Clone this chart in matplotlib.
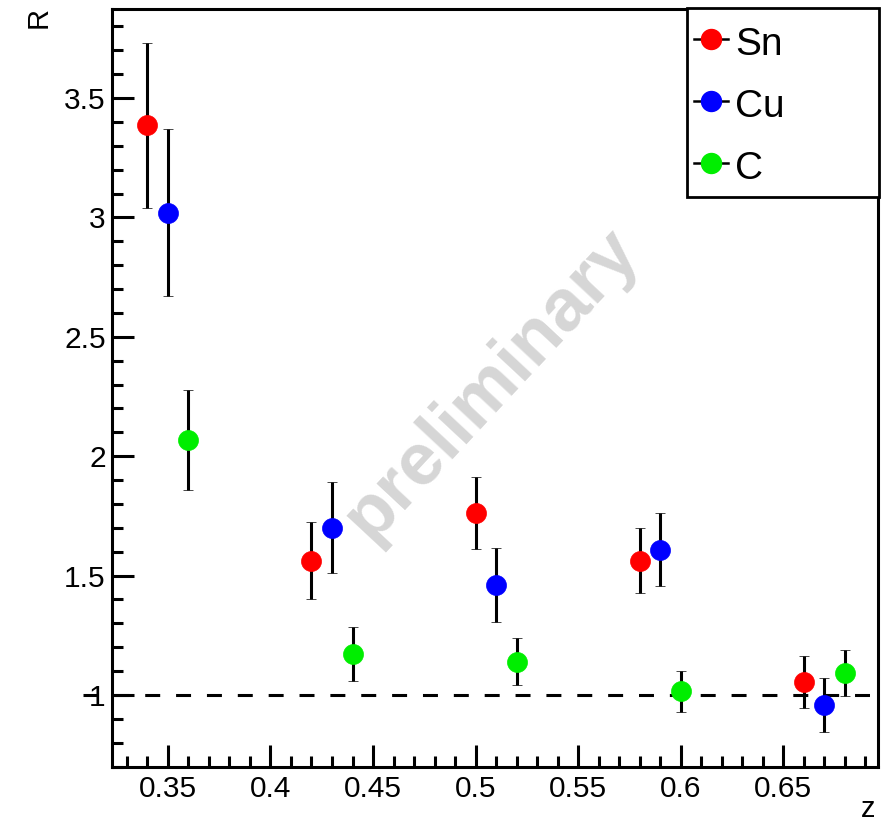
import matplotlib
matplotlib.use("Agg")
import matplotlib.pyplot as plt
from matplotlib.lines import Line2D
from matplotlib.patches import Rectangle
from matplotlib.ticker import MultipleLocator

plt.rcParams['font.family'] = ['Liberation Sans', 'DejaVu Sans']

# ---- data ----
series_names = ["Sn", "Cu", "C"]
series_colors = ["#ff0000", "#0000ff", "#00ee00"]

z_sn = [0.34, 0.42, 0.50, 0.58, 0.66]
r_sn = [3.385, 1.563, 1.762, 1.563, 1.055]
e_sn = [0.345, 0.162, 0.152, 0.135, 0.110]

z_cu = [0.35, 0.43, 0.51, 0.59, 0.67]
r_cu = [3.020, 1.700, 1.462, 1.608, 0.958]
e_cu = [0.350, 0.190, 0.155, 0.153, 0.115]

z_c = [0.36, 0.44, 0.52, 0.60, 0.68]
r_c = [2.067, 1.172, 1.140, 1.015, 1.092]
e_c = [0.210, 0.113, 0.100, 0.085, 0.095]

ref_level = 1.0
xlim = (0.3227, 0.6963)
ylim = (0.6985, 3.8727)
ref_line_x = (0.3085, 0.6963)
watermark = "preliminary"

W, H = 889, 826
fig = plt.figure(figsize=(W / 100, H / 100), dpi=100)
ax = fig.add_axes([112 / W, 1 - 767 / H, (878 - 112) / W, (767 - 9) / H])

ax.set_xlim(*xlim)
ax.set_ylim(*ylim)

# dashed reference line
ax.plot(ref_line_x, [ref_level, ref_level], color="black", lw=2.2,
        linestyle=(0, (4.9, 5.2)), clip_on=False, zorder=1.5)

handles = []
for z, r, e, name, col in zip([z_sn, z_cu, z_c], [r_sn, r_cu, r_c],
                              [e_sn, e_cu, e_c], series_names, series_colors):
    ax.errorbar(z, r, yerr=e, fmt="o", color=col, markersize=14.4,
                markeredgecolor=col, markeredgewidth=0.5,
                ecolor="black", elinewidth=2.2,
                capsize=3.6, capthick=2.2, zorder=3)
    handles.append(Line2D([0], [0], color="black", lw=1.8, marker="o",
                          markerfacecolor=col, markeredgecolor=col,
                          markersize=14.4, label=name))

# watermark
ax.text(0.495, 0.505, watermark, transform=ax.transAxes, rotation=47,
        ha="center", va="center", fontsize=53, fontweight="bold",
        color="#d6d6d6", zorder=1)

# axes styling
for s in ax.spines.values():
    s.set_linewidth(2.2)
ax.xaxis.set_major_locator(MultipleLocator(0.05))
ax.xaxis.set_minor_locator(MultipleLocator(0.01))
ax.yaxis.set_major_locator(MultipleLocator(0.5))
ax.yaxis.set_minor_locator(MultipleLocator(0.1))
ax.tick_params(which="both", direction="in", top=False, right=False, width=2.2)
ax.tick_params(which="major", length=16, labelsize=21.5)
ax.tick_params(which="minor", length=8)
ax.tick_params(axis="x", pad=6)
ax.tick_params(axis="y", pad=4.5)

def fmt(v, pos):
    s = ("%.2f" % v).rstrip("0").rstrip(".")
    return s
ax.xaxis.set_major_formatter(plt.FuncFormatter(fmt))
ax.yaxis.set_major_formatter(plt.FuncFormatter(fmt))

fig.text(39 / W, 1 - 17 / H, "R", rotation=90, ha="center", va="center", fontsize=21)
fig.text(868 / W, 1 - 809 / H, "z", ha="center", va="center", fontsize=21)

# legend box (frame) and legend entries
ax.add_patch(Rectangle((687 / W, 1 - 197 / H), 192 / W, 189 / H,
                       transform=fig.transFigure, facecolor="white",
                       edgecolor="black", lw=2.0, clip_on=False, zorder=4))
leg = ax.legend(handles=handles, loc="upper left",
                bbox_to_anchor=(694 / W, 1 - 24 / H),
                bbox_transform=fig.transFigure,
                fontsize=28, frameon=False, borderpad=0, labelspacing=0.6,
                handleheight=1.0, handlelength=0.87, handletextpad=0.18,
                borderaxespad=0)
leg.set_zorder(5)

fig.savefig("out.png", dpi=100)
